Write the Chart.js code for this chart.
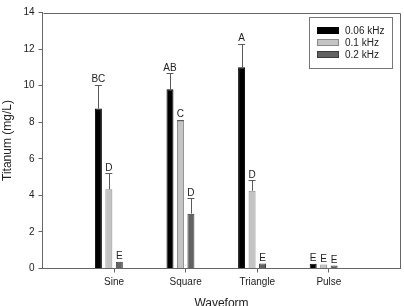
<!DOCTYPE html>
<html>
<head>
	<meta charset="utf-8">
	<title>Titanium by waveform</title>
	<script src="https://cdn.jsdelivr.net/npm/chart.js@4.4.1/dist/chart.umd.min.js"></script>
	<style>
		html, body { margin: 0; padding: 0; background: #fff; }
		#wrap { width: 404px; height: 306px; }
	</style>
</head>
<body>
	<div id="wrap"><canvas id="myChart" width="404" height="306"></canvas></div>

	<script>
		// data
		const categories = ['Sine', 'Square', 'Triangle', 'Pulse'];
		const seriesNames = ['0.06 kHz', '0.1 kHz', '0.2 kHz'];
		const val006 = [8.75, 9.80, 11.00, 0.26];
		const val01 = [4.33, 8.08, 4.25, 0.22];
		const val02 = [0.37, 3.00, 0.27, 0.17];
		const err006 = [1.30, 0.88, 1.28, 0];
		const err01 = [0.88, 0.05, 0.58, 0];
		const err02 = [0, 0.84, 0, 0];
		const let006 = ['BC', 'AB', 'A', 'E'];
		const let01 = ['D', 'C', 'D', 'E'];
		const let02 = ['E', 'D', 'E', 'E'];
		const yTicks = [0, 2, 4, 6, 8, 10, 12, 14];

		const fills = ['#000000', '#c4c4c4', '#626262'];
		const edges = ['#000000', '#8a8a8a', '#3c3c3c'];
		const values = [val006, val01, val02];
		const errs = [err006, err01, err02];
		const letters = [let006, let01, let02];

		// blank slot at each end so the ticks fall 72px apart from the axis
		const labels = [''].concat(categories, ['']);
		function pad(arr) { return [null].concat(arr, [null]); }

		const datasets = values.map(function (v, d) {
			return {
				label: seriesNames[d],
				data: pad(v),
				backgroundColor: fills[d],
				borderColor: edges[d],
				borderWidth: 1,
				borderSkipped: 'bottom'
			};
		});
		// empty fourth slot, the original groups sit left of the tick
		datasets.push({ label: 'spacer', data: labels.map(function () { return null; }) });

		const extras = {
			id: 'extras',
			afterDatasetsDraw(chart) {
				const ctx = chart.ctx;
				const y = chart.scales.y;
				ctx.save();
				for (let d = 0; d < values.length; d++) {
					const meta = chart.getDatasetMeta(d);
					for (let k = 0; k < categories.length; k++) {
						const bar = meta.data[k + 1];
						const v = values[d][k], e = errs[d][k];
						const top = y.getPixelForValue(v + e);
						const half = bar.width / 2;
						if (e > 0) {
							ctx.strokeStyle = '#5a5a5a';
							ctx.lineWidth = 1;
							ctx.beginPath();
							ctx.moveTo(Math.round(bar.x) + 0.5, bar.y);
							ctx.lineTo(Math.round(bar.x) + 0.5, Math.round(top) + 0.5);
							ctx.moveTo(bar.x - half, Math.round(top) + 0.5);
							ctx.lineTo(bar.x + half, Math.round(top) + 0.5);
							ctx.stroke();
						}
						ctx.fillStyle = '#222';
						ctx.font = '10px "Liberation Sans", Arial, sans-serif';
						ctx.textAlign = 'center';
						ctx.textBaseline = 'alphabetic';
						ctx.fillText(letters[d][k], bar.x, top - 2.5);
					}
				}
				ctx.restore();
			},
			afterDraw(chart) {
				const ctx = chart.ctx;
				const a = chart.chartArea;
				ctx.save();
				// frame top and right
				ctx.strokeStyle = '#666';
				ctx.lineWidth = 1;
				ctx.beginPath();
				ctx.moveTo(Math.round(a.left) + 0.5, Math.round(a.top) + 0.5);
				ctx.lineTo(Math.round(a.right) - 0.5, Math.round(a.top) + 0.5);
				ctx.lineTo(Math.round(a.right) - 0.5, Math.round(a.bottom));
				ctx.stroke();

				// legend box inside the plot
				const bx = 309.5, by = 17.5, bw = 83, bh = 51;
				ctx.strokeStyle = '#777';
				ctx.strokeRect(bx, by, bw, bh);
				ctx.font = '10px "Liberation Sans", Arial, sans-serif';
				ctx.textAlign = 'left';
				ctx.textBaseline = 'middle';
				for (let d = 0; d < seriesNames.length; d++) {
					const cy = 30.5 + d * 12;
					ctx.fillStyle = fills[d];
					ctx.fillRect(317, cy - 3.5, 22, 7);
					ctx.strokeStyle = edges[d];
					ctx.strokeRect(317.5, cy - 3, 21, 6);
					ctx.fillStyle = '#222';
					ctx.fillText(seriesNames[d], 345, cy + 0.5);
				}
				ctx.restore();
			}
		};

		new Chart(document.getElementById('myChart'), {
			type: 'bar',
			data: { labels: labels, datasets: datasets },
			plugins: [extras],
			options: {
				responsive: false,
				animation: false,
				categoryPercentage: 0.585,
				barPercentage: 0.667,
				layout: { padding: { top: 12.5, right: 2, left: 0, bottom: 0 } },
				plugins: {
					legend: { display: false },
					tooltip: { enabled: false }
				},
				scales: {
					x: {
						offset: false,
						afterFit: function (s) { s.height = 37.5; },
						grid: {
							offset: false,
							drawOnChartArea: false,
							tickLength: 4,
							color: function (c) {
								return (c.index === 0 || c.index === labels.length - 1) ? 'rgba(0,0,0,0)' : '#666';
							}
						},
						border: { color: '#666' },
						ticks: {
							color: '#222',
							padding: 3.5,
							maxRotation: 0,
							autoSkip: false,
							font: { family: '"Liberation Sans", Arial, sans-serif', size: 10 }
						},
						title: {
							display: true,
							text: 'Waveform',
							color: '#222',
							padding: 0,
							font: { family: '"Liberation Sans", Arial, sans-serif', size: 12, lineHeight: 0.4 }
						}
					},
					y: {
						min: 0,
						max: 14,
						afterFit: function (s) { s.width = 42.5; },
						afterBuildTicks: function (s) { s.ticks = yTicks.map(function (v) { return { value: v }; }); },
						grid: { drawOnChartArea: false, tickLength: 4, color: '#666' },
						border: { color: '#666' },
						ticks: {
							color: '#222',
							padding: 4,
							font: { family: '"Liberation Sans", Arial, sans-serif', size: 10 }
						},
						title: {
							display: true,
							text: 'Titanum (mg/L)',
							color: '#222',
							padding: 0,
							font: { family: '"Liberation Sans", Arial, sans-serif', size: 12, lineHeight: 1.25 }
						}
					}
				}
			}
		});
	</script>
</body>
</html>
